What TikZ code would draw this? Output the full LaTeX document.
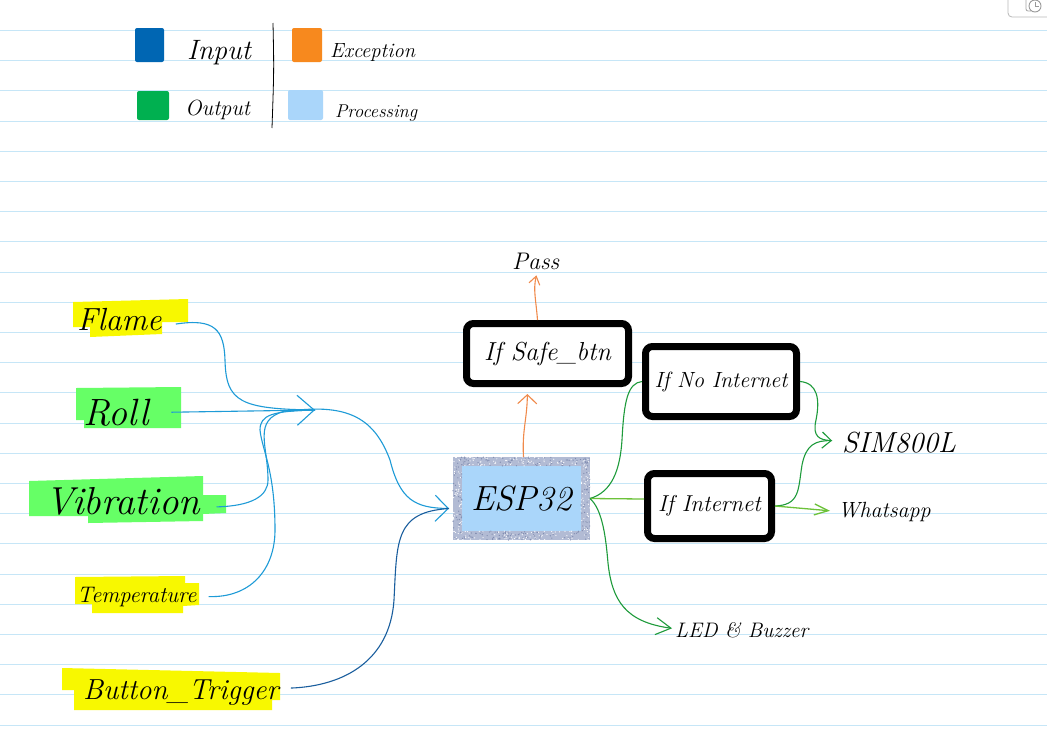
\documentclass[tikz,border=0pt]{standalone}
\usetikzlibrary{arrows.meta}
\definecolor{ruleline}{HTML}{C6E6F7}
\definecolor{inblue}{HTML}{0066B3}
\definecolor{outgreen}{HTML}{00B050}
\definecolor{excorange}{HTML}{F7891E}
\definecolor{procblue}{HTML}{AAD6FA}
\definecolor{hlyellow}{HTML}{F8F800}
\definecolor{hlgreen}{HTML}{66FF66}
\definecolor{linkblue}{HTML}{1E9BD7}
\definecolor{darkblue}{HTML}{1A5E9E}
\definecolor{linkorange}{HTML}{F08A4B}
\definecolor{darkgreen}{HTML}{1E9B3B}
\definecolor{lightgreen}{HTML}{6CC23A}
\definecolor{espborder}{HTML}{B2BBD4}
\definecolor{espspeck}{HTML}{7F8BAF}
\newcommand\hwsize[1]{\fontsize{#1}{#1}\selectfont\itshape}
\newcommand\speckband[4]{%
  \foreach \i in {1,...,#4}{%
    \pgfmathsetmacro\xx{#1+(#3)*rnd}%
    \pgfmathsetmacro\yy{#2+9*rnd}%
    \pgfmathsetmacro\zz{rnd}%
    \ifdim\zz pt<0.5pt \fill[espspeck] (\xx,\yy) circle (0.65);\else \fill[white] (\xx,\yy) circle (0.6);\fi}}
\newcommand\speckside[4]{%
  \foreach \i in {1,...,#4}{%
    \pgfmathsetmacro\xx{#1+9*rnd}%
    \pgfmathsetmacro\yy{#2+(#3)*rnd}%
    \pgfmathsetmacro\zz{rnd}%
    \ifdim\zz pt<0.5pt \fill[espspeck] (\xx,\yy) circle (0.65);\else \fill[white] (\xx,\yy) circle (0.6);\fi}}
\begin{document}
\begin{tikzpicture}[x=1pt,y=-1pt,
  lbl/.style={inner sep=0pt, anchor=base west},
  box/.style={draw=black, line width=7pt, rounded corners=7pt, inner sep=0pt, fill=white},
  inlink/.style={linkblue, line width=1.1pt},
  greenlink/.style={darkgreen, line width=1.1pt},
  lgreenlink/.style={lightgreen, line width=1.3pt},
  orangelink/.style={linkorange, line width=1.1pt}]
\useasboundingbox (0,0) rectangle (1047,729);
\fill[white] (0,0) rectangle (1047,729);
\pgfmathsetseed{42}
% ruled paper
\foreach \k in {0,...,23} \draw[ruleline, line width=0.9pt] (0,30.5+30.2*\k) -- (1047,30.5+30.2*\k);
% top-right widget
\draw[gray!55, line width=0.8pt, rounded corners=4pt] (1008,-8) -- (1008,17) -- (1055,17);
\draw[gray!70, line width=0.8pt, rounded corners=2pt] (1026,-2) -- (1026,11) -- (1031,11);
\draw[gray!80, line width=0.9pt] (1035,6) circle (6);
\draw[gray!80, line width=0.9pt] (1035,2) -- (1035,6) -- (1038.5,6);
% legend
\fill[inblue, rounded corners=2pt] (135,28) rectangle (164,62);
\fill[outgreen, rounded corners=2pt] (137,91) rectangle (169,120);
\fill[excorange, rounded corners=2pt] (292,28) rectangle (322,62);
\fill[procblue, rounded corners=2pt] (288,90) rectangle (323,120);
\node[lbl, font=\hwsize{28}] (lgin) at (187,59) {Input};
\node[lbl, font=\hwsize{22}] (lgout) at (185,115) {Output};
\node[lbl, font=\hwsize{20.5}] (lgexc) at (330,57) {Exception};
\node[lbl, font=\hwsize{18.5}] (lgproc) at (335,117) {Processing};
\draw[black, line width=0.8pt] (273,23) .. controls (274,70) .. (272,128);
% highlights
\fill[hlyellow] (73,302) -- (188,299) -- (188,322) -- (162,322) -- (162,334) -- (90,337) -- (90,327) -- (73,327) -- cycle;
\fill[hlgreen] (76,388) -- (181,387) -- (181,428) -- (84,428) -- (84,420) -- (76,420) -- cycle;
\fill[hlgreen] (29,481) -- (203,476) -- (203,495) -- (226,495) -- (226,513) -- (203,514) -- (203,521) -- (88,523) -- (88,516) -- (29,516) -- cycle;
\fill[hlyellow] (75,577) -- (185,576) -- (185,583) -- (199,583) -- (199,605) -- (183,606) -- (183,613) -- (92,613) -- (92,604) -- (75,604) -- cycle;
\fill[hlyellow] (62,668) -- (280,673) -- (280,700) -- (272,700) -- (272,710) -- (74,710) -- (74,690) -- (62,690) -- cycle;
% input labels
\node[lbl, font=\hwsize{32}] (flame) at (77,330) {Flame};
\node[lbl, font=\hwsize{38}] (roll) at (83,425) {Roll};
\node[lbl, font=\hwsize{39}] (vib) at (45,514) {Vibration};
\node[lbl, font=\hwsize{22.5}] (temp) at (77,602) {Temperature};
\node[lbl, font=\hwsize{29}] (btn) at (83,699) {Button\_Trigger};
\coordinate (mrg) at (315,410);
% processing
\node[draw=espborder, line width=9pt, fill=procblue, minimum width=128pt, minimum height=74pt, inner sep=0pt, font=\hwsize{35}] (esp) at (521.5,498.5) {ESP32};
\speckband{453}{457}{137}{170}
\speckband{453}{531}{137}{170}
\speckside{453}{466}{65}{80}
\speckside{581}{466}{65}{80}
\node[box, minimum width=162pt, minimum height=60pt, font=\hwsize{26}] (safe) at (547.5,353.5) {If Safe\_btn};
\node[box, minimum width=151pt, minimum height=70pt, font=\hwsize{22}] (noi) at (721,381.5) {If No Internet};
\node[box, minimum width=124pt, minimum height=65pt, font=\hwsize{23}] (inet) at (709.5,506) {If Internet};
% outputs
\node[lbl, font=\hwsize{24}] (pass) at (512,269) {Pass};
\node[lbl, font=\hwsize{29}] (sim) at (842,452) {SIM800L};
\node[lbl, font=\hwsize{22}] (wa) at (838,517) {Whatsapp};
\node[lbl, font=\hwsize{21}] (led) at (675,637) {LED \& Buzzer};
% input connectors
\draw[inlink] ([xshift=14pt,yshift=-5pt]flame.east) .. controls (215,318) and (224,330) .. (225,360) .. controls (226,402) and (240,409) .. (mrg);
\draw[inlink] ([xshift=16pt,yshift=-6pt]vib.east) .. controls (252,506) and (268,496) .. (268,480) .. controls (268,445) and (252,420) .. (285,411) -- (mrg);
\draw[inlink] ([xshift=12pt]temp.east) .. controls (250,598) and (275,570) .. (275,530) .. controls (275,470) and (262,450) .. (260,430) .. controls (260,415) and (272,411) .. (mrg);
\draw[inlink, -{Straight Barb[length=17pt,width=30pt]}] ([xshift=22pt]roll.east) -- (mrg);
\draw[inlink, -{Straight Barb[length=13pt,width=26pt]}] (290,411) .. controls (350,403) and (375,420) .. (390,460) .. controls (400,500) and (415,508) .. ([xshift=-4pt,yshift=-10pt]esp.west);
\draw[darkblue, line width=1.1pt] ([xshift=12pt,yshift=4pt]btn.east) .. controls (345,686) and (390,660) .. (394,600) .. controls (397,540) and (395,512) .. ([xshift=-4pt,yshift=-10pt]esp.west);
% exception connectors
\draw[orangelink, -{Straight Barb[length=9pt,width=19pt]}, shorten >=7pt] ([xshift=2pt]esp.north) .. controls (522,430) and (527,420) .. ([xshift=-20pt]safe.south);
\draw[orangelink, -{Straight Barb[length=8pt,width=11pt]}, shorten >=6pt] ([xshift=-10pt]safe.north) .. controls (536,300) and (533,290) .. ([xshift=2pt]pass.south);
% output connectors
\draw[greenlink] (esp.east) .. controls (612,492) and (620,470) .. (622,440) .. controls (624,400) and (628,383) .. (noi.west);
\draw[lgreenlink] (esp.east) -- ([yshift=7pt]inet.west);
\draw[greenlink, -{Straight Barb[length=15pt,width=17pt]}, shorten >=3pt] (esp.east) .. controls (603,510) and (606,540) .. (608,563) .. controls (612,600) and (625,622) .. ([yshift=1pt]led.west);
\draw[greenlink, -{Straight Barb[length=9pt,width=16pt]}, shorten >=10pt] (noi.east) .. controls (818,383) and (820,400) .. (816,420) .. controls (812,437) and (820,440) .. ([yshift=1pt]sim.west);
\draw[greenlink, shorten >=10pt] (inet.east) .. controls (800,505) and (798,490) .. (802,465) .. controls (806,445) and (815,440) .. ([yshift=1pt]sim.west);
\draw[lgreenlink, -{Straight Barb[length=14pt,width=11pt]}, shorten >=8pt] (inet.east) -- (wa.west);
\end{tikzpicture}
\end{document}
